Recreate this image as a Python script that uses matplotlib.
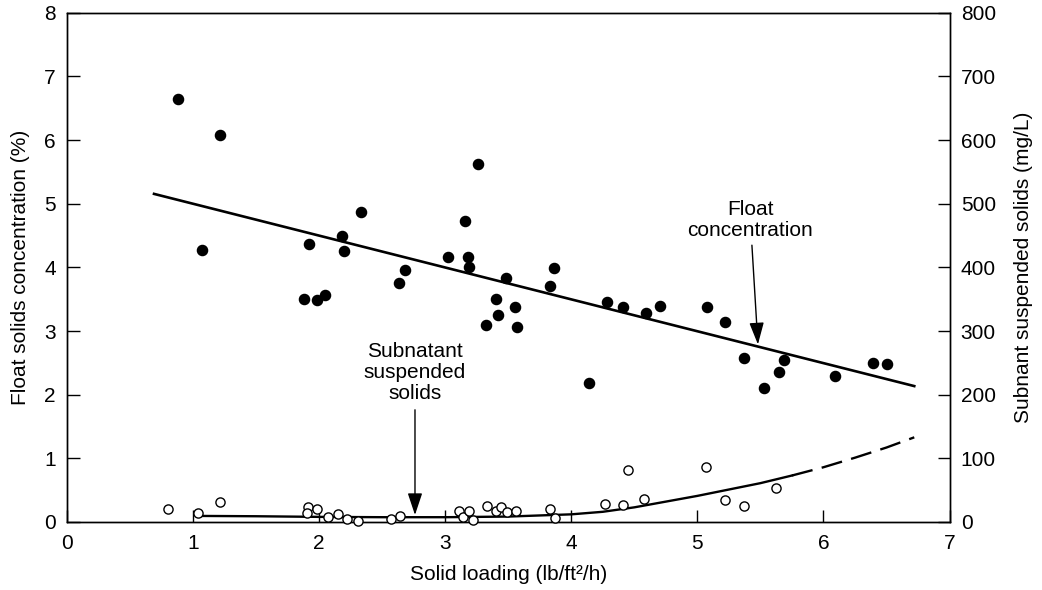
import matplotlib
matplotlib.use("Agg")
from matplotlib import pyplot as plt

plt.rcParams["font.family"] = ["Liberation Sans", "DejaVu Sans"]
plt.rcParams["font.size"] = 15

# float solids concentration (%), filled dots
float_x = [0.88, 1.21, 1.07, 1.92, 2.18, 2.20, 2.33, 1.88, 1.98, 2.05,
           2.63, 2.68, 3.26, 3.16, 3.02, 3.18, 3.19, 3.48, 3.86, 3.83,
           3.40, 3.55, 3.42, 3.32, 3.57, 4.28, 4.41, 4.59, 4.70, 5.08,
           5.22, 4.14, 5.37, 5.69, 5.65, 5.53, 6.09, 6.39, 6.50]
float_y = [6.65, 6.08, 4.28, 4.37, 4.49, 4.26, 4.87, 3.50, 3.49, 3.56,
           3.75, 3.96, 5.62, 4.73, 4.16, 4.17, 4.00, 3.83, 3.99, 3.70,
           3.50, 3.37, 3.25, 3.10, 3.07, 3.46, 3.38, 3.29, 3.40, 3.38,
           3.14, 2.18, 2.57, 2.54, 2.35, 2.11, 2.29, 2.49, 2.48]

# subnatant suspended solids (mg/L), open circles
sub_x = [0.80, 1.04, 1.21, 1.91, 1.90, 1.98, 2.07, 2.15, 2.22, 2.31,
         2.57, 2.64, 3.11, 3.14, 3.19, 3.22, 3.33, 3.40, 3.44, 3.49,
         3.56, 3.83, 3.87, 4.27, 4.41, 4.45, 4.58, 5.07, 5.22, 5.37, 5.62]
sub_y = [21, 14, 31, 24, 14, 21, 8, 12, 5, 1,
         5, 10, 18, 8, 17, 3, 25, 17, 23, 15,
         17, 20, 7, 28, 26, 81, 36, 86, 35, 25, 54]

# fitted float concentration line
fit_x = [0.68, 6.73]
fit_y = [5.16, 2.13]

# subnatant trend curve, solid part then dashed extension
curve_x = [1.05, 1.5, 2.0, 2.5, 3.0, 3.5, 4.0, 4.25, 4.5, 4.75, 5.0, 5.25, 5.5, 5.75]
curve_y = [9.5, 9, 8, 7.5, 7.5, 8.5, 12, 16, 23, 32, 41, 51, 61, 73]
dash_x = [5.75, 6.0, 6.25, 6.5, 6.72]
dash_y = [73, 86, 101, 117, 133]

fig = plt.figure(figsize=(10.42, 5.9), dpi=100)
ax = fig.add_axes([0.0643, 0.1153, 0.847, 0.863])
ax2 = ax.twinx()

ax.plot(fit_x, fit_y, color="black", lw=1.9, solid_capstyle="butt")
ax.plot(float_x, float_y, "o", color="black", ms=7.3, zorder=3)

ax2.plot(curve_x, curve_y, color="black", lw=1.7)
ax2.plot(dash_x, dash_y, color="black", lw=1.7, dashes=(9, 4))
ax2.plot(sub_x, sub_y, "o", mfc="white", mec="black", mew=1, ms=6.6,
         zorder=3, clip_on=False)

ax.set_xlim(0, 7)
ax.set_ylim(0, 8)
ax2.set_ylim(0, 800)
ax.set_xticks(range(0, 8))
ax.set_yticks(range(0, 9))
ax2.set_yticks(range(0, 900, 100))

ax.tick_params(axis="x", direction="in", length=9, width=1, pad=9)
ax.tick_params(axis="y", direction="in", length=9, width=1, pad=8)
ax2.tick_params(axis="y", direction="in", length=9, width=1, pad=8)
for a in (ax, ax2):
    for s in a.spines.values():
        s.set_linewidth(1)

ax.set_xlabel("Solid loading (lb/ft\u00b2/h)", labelpad=8)
ax.set_ylabel("Float solids concentration (%)", labelpad=10)
ax2.set_ylabel("Subnant suspended solids (mg/L)", labelpad=13)

ax.annotate("Float\nconcentration", xy=(5.48, 2.79), xytext=(5.42, 4.75),
            ha="center", va="center", linespacing=1.13,
            arrowprops=dict(arrowstyle="-|>,head_length=0.9,head_width=0.3",
                            color="black", lw=1, shrinkA=2, shrinkB=0))
ax.annotate("Subnatant\nsuspended\nsolids", xy=(2.76, 0.11), xytext=(2.76, 2.35),
            ha="center", va="center", linespacing=1.13,
            arrowprops=dict(arrowstyle="-|>,head_length=0.9,head_width=0.3",
                            color="black", lw=1, shrinkA=3, shrinkB=0))

fig.savefig("out.png", dpi=100)
